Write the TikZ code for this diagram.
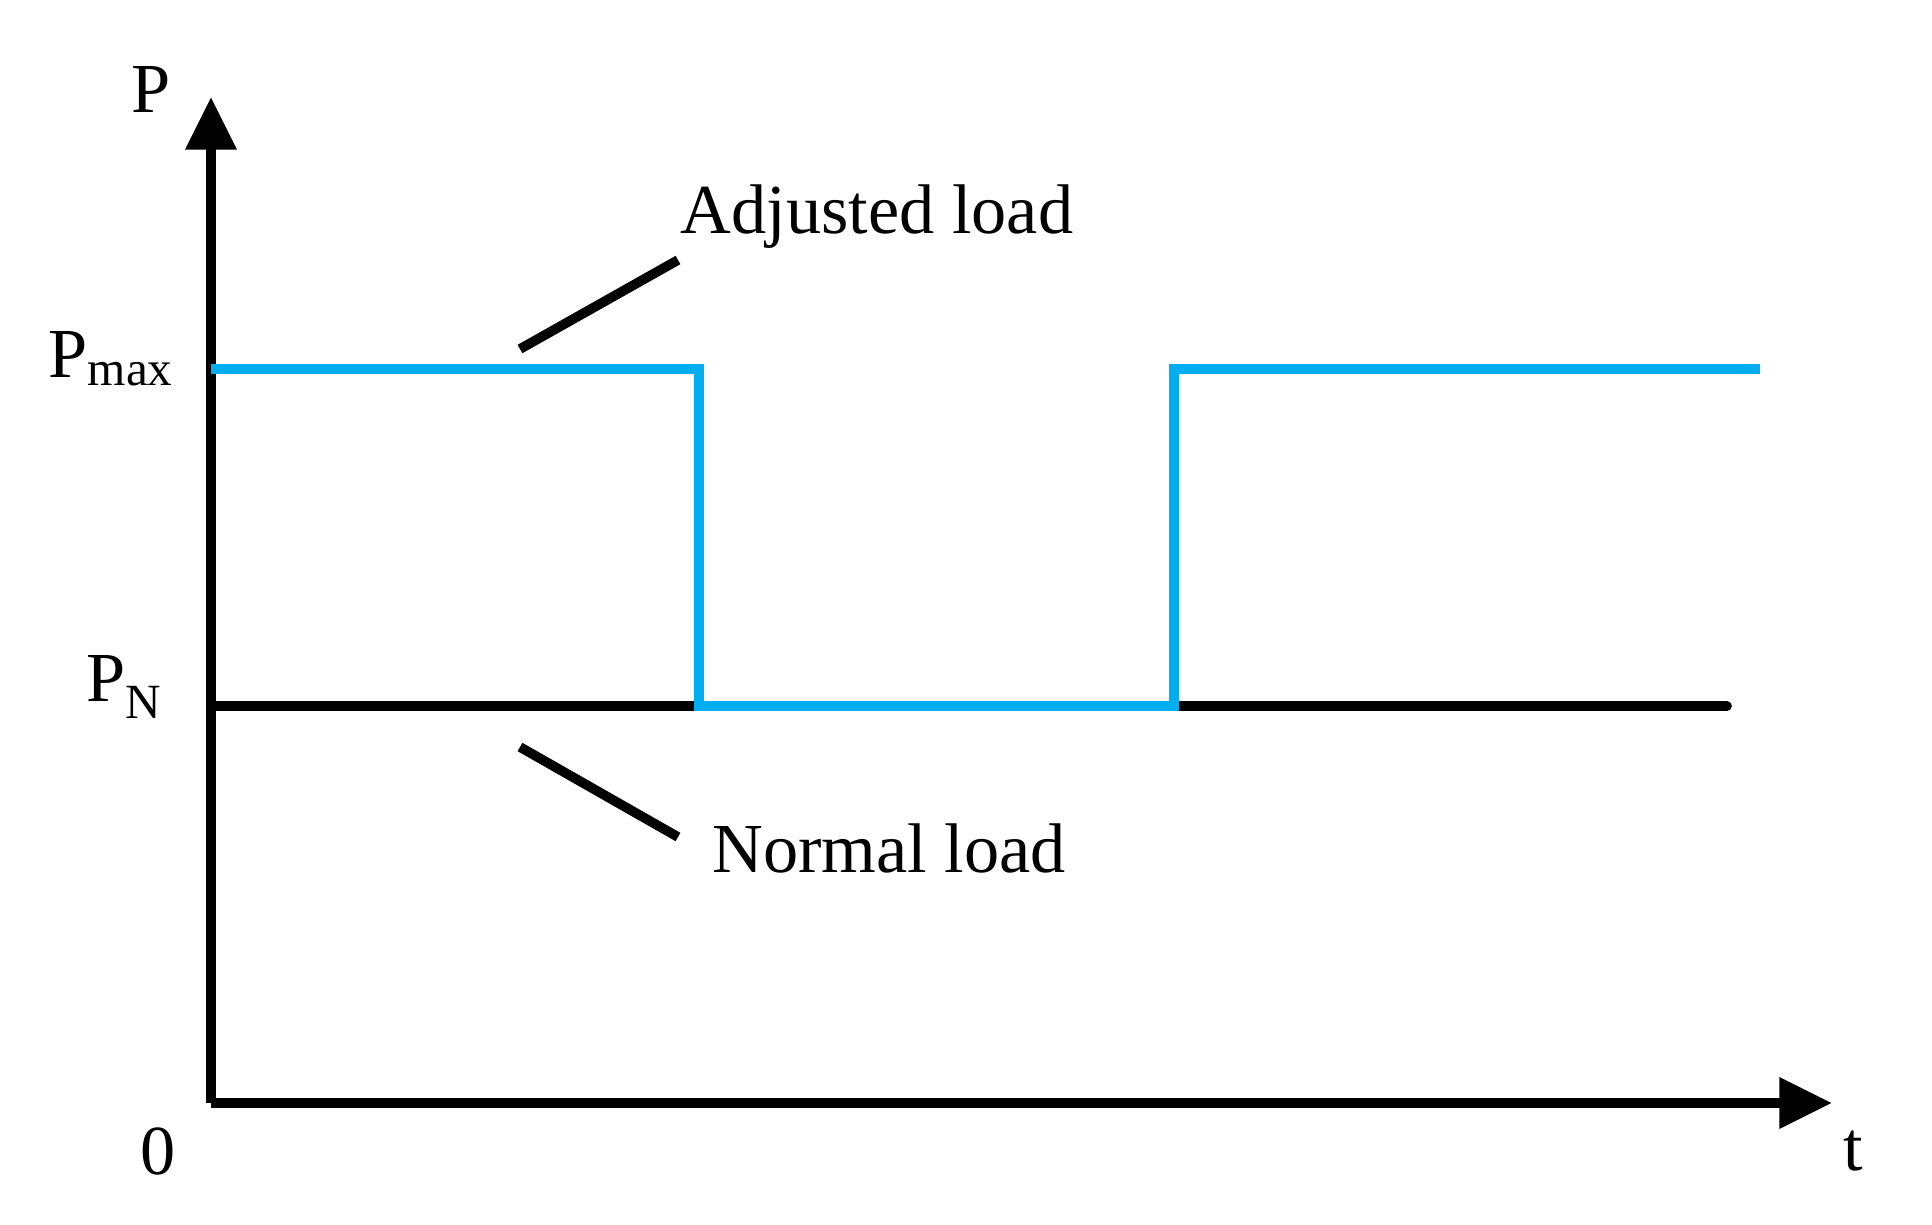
\documentclass[tikz,border=0pt]{standalone}
\usepackage{fontspec}
\setmainfont{Liberation Serif}
\usetikzlibrary{positioning,arrows.meta}
\definecolor{loadblue}{RGB}{0,174,239}
\begin{document}
\begin{tikzpicture}[x=0.02cm,y=-0.02cm,
                    axis/.style={line width=5.5pt,-{Triangle[length=30pt,width=28pt]}},
                    curve/.style={line width=5.5pt,color=loadblue},
                    lbl/.style={font=\fontsize{40}{48}\selectfont}]
  \useasboundingbox (0,0) rectangle (1932,1224);

  \coordinate (o) at (211,1103);
  \coordinate (ytip) at (211,97);
  \coordinate (xtip) at (1832,1103);
  \draw[axis] (o) -- (ytip);
  \draw[axis] (o) -- (xtip);

  \node[lbl] (p) at (151,89) {P};
  \node[lbl] (zero) at (158,1151) {0};
  \node[lbl] (t) at (1853,1151) {t};
  \node[lbl] (pmax) at (111,359) {P\textsubscript{max}};
  \node[lbl] (pn) at (124,687) {P\textsubscript{N}};

  % normal load
  \coordinate (n1) at (211,706);
  \coordinate (n2) at (1727,706);
  \draw[line width=5.5pt,line cap=round] (n1) -- (n2);

  % adjusted load
  \coordinate (a1) at (211,369);
  \coordinate (a2) at (699,369);
  \coordinate (a3) at (699,706);
  \coordinate (a4) at (1174,706);
  \coordinate (a5) at (1174,369);
  \coordinate (a6) at (1760,369);
  \draw[curve] (a1) -- (a2) -- (a3) -- (a4) -- (a5) -- (a6);

  \node[lbl] (adj) at (877,217) {Adjusted load};
  \node[lbl] (nrm) at (889,848) {Normal load};
  \coordinate (la1) at (520,349);
  \coordinate (la2) at (678,260);
  \coordinate (ln1) at (520,747);
  \coordinate (ln2) at (678,837);
  \draw[line width=5.5pt] (la1) -- (la2);
  \draw[line width=5.5pt] (ln1) -- (ln2);
\end{tikzpicture}
\end{document}
